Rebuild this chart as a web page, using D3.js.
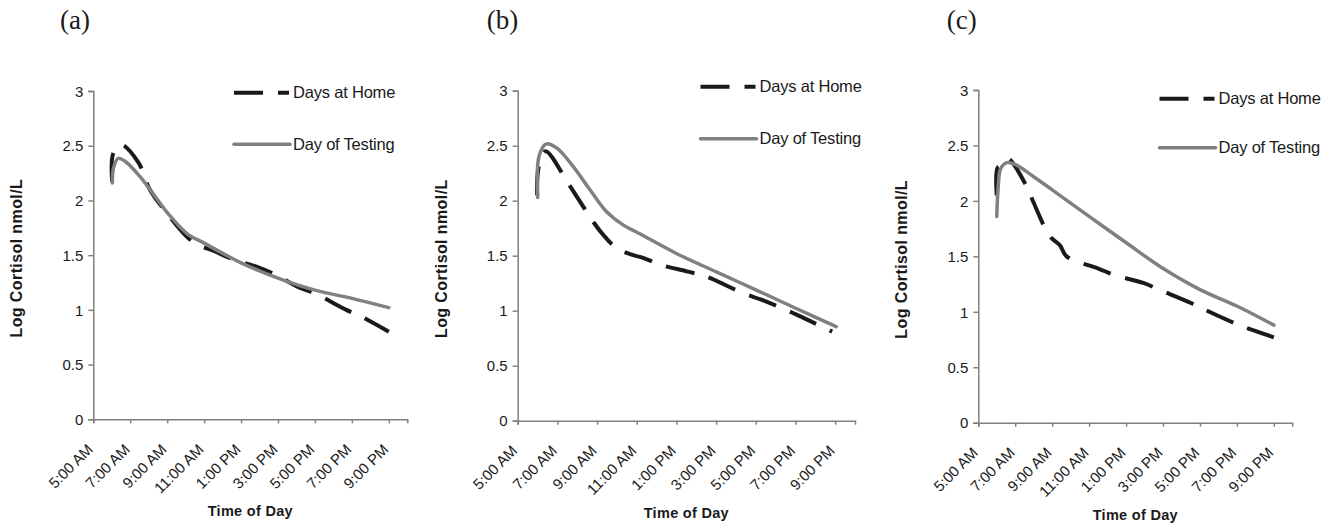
<!DOCTYPE html>
<html>
<head>
<meta charset="utf-8">
<script src="https://cdn.jsdelivr.net/npm/d3@7"></script>
<style>
	body { margin: 0; background: #fff; }
	svg { display: block; }
	text { font-family: "Liberation Sans", Arial, sans-serif; fill: #1a1a1a; }
	.panel-label { font-family: "Liberation Serif", "Times New Roman", serif; font-size: 27px; }
</style>
</head>
<body>
<div id="chart"></div>
<script>

// tick labels
const yTicks = [0, 0.5, 1, 1.5, 2, 2.5, 3];
const hourTicks = [5, 7, 9, 11, 13, 15, 17, 19, 21];
const hourLabels = ["5:00 AM", "7:00 AM", "9:00 AM", "11:00 AM", "1:00 PM", "3:00 PM", "5:00 PM", "7:00 PM", "9:00 PM"];
const panelLabels = ["(a)", "(b)", "(c)"];
const seriesNames = ["Days at Home", "Day of Testing"];

// [hour of day, log cortisol]
const homeA = [[6.02, 2.17], [6.08, 2.43], [6.5, 2.51], [7.43, 2.35], [8.06, 2.1], [9.0, 1.88], [10.0, 1.68], [10.6, 1.6], [11.5, 1.54], [12.44, 1.47], [13.9, 1.39], [14.88, 1.32], [16.2, 1.2], [17.0, 1.15], [18.7, 1.0], [19.5, 0.94], [21.0, 0.8]];
const testA = [[6.03, 2.16], [6.1, 2.3], [6.35, 2.385], [6.7, 2.36], [7.52, 2.22], [9.05, 1.88], [10.05, 1.7], [11.0, 1.61], [13.0, 1.43], [15.0, 1.29], [17.0, 1.18], [19.0, 1.105], [21.0, 1.02]];

const homeB = [[5.98, 2.05], [6.05, 2.3], [6.4, 2.45], [7.5, 2.17], [7.97, 2.04], [8.8, 1.81], [9.31, 1.69], [9.98, 1.57], [10.74, 1.51], [11.32, 1.48], [12.24, 1.415], [13.58, 1.355], [14.5, 1.31], [16.35, 1.16], [17.28, 1.1], [18.53, 1.006], [19.46, 0.93], [20.85, 0.81]];
const testB = [[6.01, 2.03], [6.07, 2.4], [6.42, 2.515], [6.96, 2.48], [7.8, 2.31], [8.64, 2.1], [9.48, 1.9], [10.31, 1.78], [11.15, 1.7], [13.0, 1.52], [15.04, 1.35], [17.0, 1.19], [19.04, 1.02], [21.05, 0.855]];

const homeC = [[6.0, 2.05], [6.05, 2.3], [6.3, 2.32], [6.6, 2.38], [7.62, 2.13], [7.98, 1.99], [8.88, 1.68], [9.42, 1.6], [9.78, 1.5], [11.5, 1.39], [12.4, 1.33], [13.93, 1.26], [14.83, 1.197], [16.55, 1.077], [17.3, 1.016], [18.7, 0.91], [19.6, 0.85], [21.0, 0.77]];
const testC = [[6.0, 1.86], [6.08, 2.13], [6.21, 2.29], [6.54, 2.345], [6.99, 2.33], [7.98, 2.22], [9.0, 2.1], [11.0, 1.86], [13.03, 1.62], [15.01, 1.39], [17.0, 1.2], [19.02, 1.05], [21.0, 0.88]];

const panels = [
	{ label: panelLabels[0], home: homeA, test: testA, left: 93.3, right: 407.3, top: 91, bottom: 419.3, legendX: 234, legendY: 92.7, legendGap: 51.6, titleX: 60 },
	{ label: panelLabels[1], home: homeB, test: testB, left: 517.7, right: 855, top: 90.7, bottom: 420.7, legendX: 700.5, legendY: 86.7, legendGap: 52, titleX: 486.7 },
	{ label: panelLabels[2], home: homeC, test: testC, left: 978.3, right: 1292.3, top: 90, bottom: 422.7, legendX: 1159.5, legendY: 98.7, legendGap: 49, titleX: 946.7 }
];

const WIDTH = 1337;
const HEIGHT = 525;
const DASH = "29,15";
const AXIS_COLOR = "#808080";
const HOME_COLOR = "#1a1a1a";
const TEST_COLOR = "#808080";

const svg = d3.select("#chart").append("svg")
	.attr("width", WIDTH)
	.attr("height", HEIGHT);

function drawPanel (p) {

	const x = d3.scaleLinear().domain([5, 22]).range([p.left, p.right]);
	const y = d3.scaleLinear().domain([0, 3]).range([p.bottom, p.top]);

	const g = svg.append("g");

	g.append("text")
		.attr("class", "panel-label")
		.attr("x", p.titleX)
		.attr("y", 28.5)
		.text(p.label);

	// y axis
	const axisY = g.append("g")
		.attr("transform", "translate(" + p.left + ",0)")
		.call(d3.axisLeft(y).tickValues(yTicks).tickSize(5).tickPadding(5).tickFormat(d3.format("")));

	// x axis
	const axisX = g.append("g")
		.attr("transform", "translate(0," + p.bottom + ")")
		.call(d3.axisBottom(x).tickValues(hourTicks).tickSize(4).tickFormat((d, i) => hourLabels[i]));

	[axisX, axisY].forEach(a => {
		a.select(".domain").attr("stroke", AXIS_COLOR).attr("stroke-width", 1.5);
		a.selectAll(".tick line").attr("stroke", AXIS_COLOR).attr("stroke-width", 1.5);
		a.selectAll("text").attr("fill", "#1a1a1a").style("font-size", "15px");
	});

	axisY.selectAll("text").attr("dy", "0.35em");

	axisX.selectAll(".tick text")
		.attr("text-anchor", "end")
		.attr("transform", "translate(0,31) rotate(-45)")
		.attr("x", 0)
		.attr("y", 0)
		.attr("dy", 0);

	// axis titles
	g.append("text")
		.attr("transform", "translate(" + (p.left - 71) + "," + ((p.top + p.bottom) / 2 + 3) + ") rotate(-90)")
		.attr("text-anchor", "middle")
		.style("font-size", "16px")
		.style("font-weight", "bold")
		.style("letter-spacing", "0.4px")
		.text("Log Cortisol nmol/L");

	g.append("text")
		.attr("x", (p.left + p.right) / 2)
		.attr("y", p.bottom + 97)
		.attr("text-anchor", "middle")
		.style("font-size", "14.5px")
		.style("font-weight", "bold")
		.style("letter-spacing", "0.3px")
		.text("Time of Day");

	const line = d3.line()
		.x(d => x(d[0]))
		.y(d => y(d[1]))
		.curve(d3.curveCatmullRom.alpha(0.5));

	g.append("path")
		.datum(p.home)
		.attr("fill", "none")
		.attr("stroke", HOME_COLOR)
		.attr("stroke-width", 4)
		.attr("stroke-dasharray", DASH)
		.attr("d", line);

	g.append("path")
		.datum(p.test)
		.attr("fill", "none")
		.attr("stroke", TEST_COLOR)
		.attr("stroke-width", 3.5)
		.attr("stroke-linecap", "round")
		.attr("d", line);

	// legend
	const legend = g.append("g")
		.attr("transform", "translate(" + p.legendX + "," + p.legendY + ")");

	legend.append("line")
		.attr("x1", 0).attr("x2", 55)
		.attr("y1", 0).attr("y2", 0)
		.attr("stroke", HOME_COLOR)
		.attr("stroke-width", 4)
		.attr("stroke-dasharray", DASH);

	legend.append("line")
		.attr("x1", 0).attr("x2", 56)
		.attr("y1", p.legendGap).attr("y2", p.legendGap)
		.attr("stroke", TEST_COLOR)
		.attr("stroke-width", 3.5)
		.attr("stroke-linecap", "round");

	legend.selectAll(".legend-text")
		.data(seriesNames)
		.enter()
		.append("text")
		.attr("class", "legend-text")
		.attr("x", 59)
		.attr("y", (d, i) => i * p.legendGap)
		.attr("dy", "0.35em")
		.style("font-size", "16.5px")
		.style("letter-spacing", "-0.2px")
		.text(d => d);
}

panels.forEach(drawPanel);

</script>
</body>
</html>
